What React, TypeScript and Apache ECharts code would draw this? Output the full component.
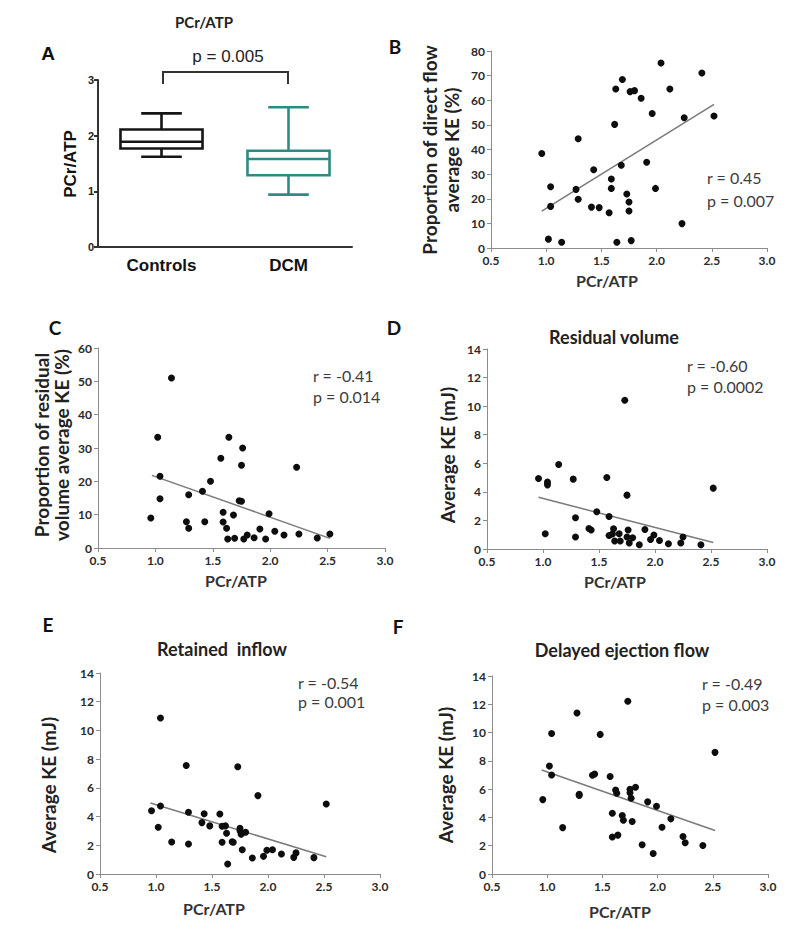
import React, { useEffect, useRef } from 'react';
import * as echarts from 'echarts';

// ---------- Data ----------
const groups = ['Controls', 'DCM'];
const boxLow = [1.62, 0.94];
const boxQ1 = [1.77, 1.29];
const boxMedian = [1.89, 1.58];
const boxQ3 = [2.11, 1.73];
const boxHigh = [2.4, 2.51];
const groupColors = ['#151515', '#2f8a84'];

const pcrAtp = [0.96, 1.02, 1.04, 1.04, 1.14, 1.27, 1.29, 1.29, 1.41, 1.43, 1.48, 1.57, 1.59, 1.59, 1.62, 1.63, 1.64, 1.68, 1.69, 1.73, 1.75, 1.75, 1.76, 1.77, 1.8, 1.86, 1.91, 1.96, 1.99, 2.04, 2.12, 2.23, 2.25, 2.41, 2.52];

const directFlowPct = [38.4, 3.6, 24.9, 16.9, 2.3, 23.8, 44.4, 19.8, 16.6, 31.8, 16.4, 14.3, 28.0, 24.2, 50.2, 64.6, 2.3, 33.6, 68.4, 21.9, 18.7, 15.0, 63.5, 3.0, 63.9, 60.8, 34.8, 54.6, 24.2, 75.1, 64.6, 9.9, 52.9, 71.1, 53.6];
const residualPct = [9.0, 33.2, 21.5, 14.8, 51.0, 7.9, 5.9, 16.0, 17.0, 7.9, 20.0, 26.9, 10.7, 7.8, 5.9, 2.7, 33.2, 9.9, 2.9, 14.2, 14.0, 24.8, 30.0, 2.7, 3.9, 3.1, 5.7, 2.7, 10.3, 5.0, 3.9, 24.2, 4.2, 3.0, 4.2];
const residualKE = [4.93, 1.07, 4.68, 4.49, 5.91, 4.89, 2.19, 0.84, 1.44, 1.33, 2.61, 5.0, 2.28, 0.95, 1.05, 1.42, 0.56, 1.07, 0.56, 10.41, 3.77, 0.84, 1.33, 0.42, 0.79, 0.3, 1.37, 0.67, 0.98, 0.6, 0.37, 0.42, 0.84, 0.3, 4.26];
const retainedKE = [4.41, 3.26, 4.74, 10.86, 2.23, 7.56, 4.3, 2.09, 3.58, 4.2, 3.35, 4.18, 3.32, 2.21, 3.35, 2.84, 0.7, 2.25, 2.21, 7.47, 3.19, 3.02, 2.77, 1.69, 2.91, 1.12, 5.46, 1.23, 1.65, 1.69, 1.39, 1.16, 1.47, 1.14, 4.88];
const delayedKE = [5.26, 7.63, 7.0, 9.94, 3.28, 11.39, 5.64, 5.55, 6.98, 7.07, 9.87, 6.9, 4.3, 2.61, 5.94, 5.71, 2.75, 4.13, 3.8, 12.21, 5.99, 5.75, 5.36, 3.71, 6.13, 2.07, 5.1, 1.45, 4.79, 3.31, 3.9, 2.65, 2.21, 2.02, 8.6];

const trendB = [[0.96, 15.0], [2.52, 58.3]];
const trendC = [[0.97, 21.8], [2.52, 2.9]];
const trendD = [[0.96, 3.62], [2.52, 0.45]];
const trendE = [[0.95, 4.95], [2.52, 1.2]];
const trendF = [[0.95, 7.35], [2.52, 3.07]];

const statsB = ['r = 0.45', 'p = 0.007'];
const statsC = ['r = -0.41', 'p = 0.014'];
const statsD = ['r = -0.60', 'p = 0.0002'];
const statsE = ['r = -0.54', 'p = 0.001'];
const statsF = ['r = -0.49', 'p = 0.003'];

const yTicksA = { min: 0, max: 3, interval: 1 };
const yTicksPct80 = { min: 0, max: 80, interval: 10 };
const yTicksPct60 = { min: 0, max: 60, interval: 10 };
const yTicksKE = { min: 0, max: 14, interval: 2 };

// ---------- Styling ----------
const CAL = 'Lato, "Open Sans", sans-serif';
const ARIAL = '"Liberation Sans", Arial, sans-serif';
const AX = '#8c8c8c';

function xAxisPcr(gridIndex: number) {
  return {
    type: 'value', gridIndex, min: 0.5, max: 3.0, interval: 0.5,
    axisLine: { show: true, lineStyle: { color: AX, width: 1 } },
    axisTick: { show: true, length: 4, lineStyle: { color: AX } },
    axisLabel: { formatter: (v: number) => v.toFixed(1), fontFamily: CAL, fontWeight: 'bold', fontSize: 12, color: '#2a2a2a', margin: 6 },
    splitLine: { show: false },
  };
}
function yAxisVal(gridIndex: number, t: { min: number; max: number; interval: number }) {
  return {
    type: 'value', gridIndex, min: t.min, max: t.max, interval: t.interval,
    axisLine: { show: true, lineStyle: { color: AX, width: 1 } },
    axisTick: { show: true, length: 4, lineStyle: { color: AX } },
    axisLabel: { fontFamily: CAL, fontWeight: 'bold', fontSize: 12, color: '#2a2a2a', margin: 6 },
    splitLine: { show: false },
  };
}
function scatter(idx: number, ys: number[]) {
  return {
    type: 'scatter', xAxisIndex: idx, yAxisIndex: idx, symbolSize: 7,
    itemStyle: { color: '#0d0d0d', opacity: 1 }, data: pcrAtp.map((x, i) => [x, ys[i]]), z: 3,
  };
}
function trend(idx: number, pts: number[][]) {
  return {
    type: 'line', xAxisIndex: idx, yAxisIndex: idx, data: pts, symbol: 'none',
    lineStyle: { color: '#7a7a7a', width: 1.5 }, z: 2,
  };
}
function txt(x: number, y: number, text: string, size: number, opts: any = {}) {
  return {
    type: 'text', x, y, rotation: opts.rotation || 0,
    style: {
      text, fontSize: size, fontFamily: opts.font || CAL, fontWeight: opts.weight || 'normal',
      fill: opts.color || '#222', align: opts.align || 'center', verticalAlign: 'middle',
      lineHeight: opts.lineHeight || size * 1.2,
    },
  };
}
function stats(x: number, y1: number, y2: number, s: string[]) {
  return [txt(x, y1, s[0], 16, { align: 'left', color: '#3c3c3c' }), txt(x, y2, s[1], 16, { align: 'left', color: '#3c3c3c' })];
}

export default function App() {
  const ref = useRef<HTMLDivElement>(null);
  useEffect(() => {
    if (!ref.current) return;
    const chart = echarts.init(ref.current, undefined, { renderer: 'svg' });

    const boxData = groups.map((g, i) => [i, boxLow[i], boxQ1[i], boxMedian[i], boxQ3[i], boxHigh[i]]);

    const renderBox = (params: any, api: any) => {
      const i = api.value(0);
      const color = groupColors[i];
      const catW = api.size([1, 0])[0];
      const half = catW * 0.323;
      const capHalf = catW * 0.16;
      const [xc, yLow] = api.coord([i, api.value(1)]);
      const yQ1 = api.coord([i, api.value(2)])[1];
      const yMed = api.coord([i, api.value(3)])[1];
      const yQ3 = api.coord([i, api.value(4)])[1];
      const yHigh = api.coord([i, api.value(5)])[1];
      const st = { stroke: color, lineWidth: 2.6, fill: 'none' };
      return {
        type: 'group',
        children: [
          { type: 'rect', shape: { x: xc - half, y: yQ3, width: half * 2, height: yQ1 - yQ3 }, style: st },
          { type: 'line', shape: { x1: xc - half, y1: yMed, x2: xc + half, y2: yMed }, style: st },
          { type: 'line', shape: { x1: xc, y1: yQ3, x2: xc, y2: yHigh }, style: st },
          { type: 'line', shape: { x1: xc, y1: yQ1, x2: xc, y2: yLow }, style: st },
          { type: 'line', shape: { x1: xc - capHalf, y1: yHigh, x2: xc + capHalf, y2: yHigh }, style: st },
          { type: 'line', shape: { x1: xc - capHalf, y1: yLow, x2: xc + capHalf, y2: yLow }, style: st },
        ],
      };
    };

    const option: any = {
      animation: false,
      backgroundColor: '#fff',
      grid: [
        { left: 98, top: 80, width: 254, height: 167 },
        { left: 491, top: 51, width: 276, height: 197 },
        { left: 98, top: 348, width: 287, height: 200 },
        { left: 487, top: 349, width: 280, height: 200 },
        { left: 100, top: 673, width: 280, height: 201 },
        { left: 492, top: 676, width: 276, height: 198 },
      ],
      xAxis: [
        {
          type: 'category', gridIndex: 0, data: groups,
          axisLine: { show: true, lineStyle: { color: '#333', width: 2 } },
          axisTick: { show: false },
          axisLabel: { fontFamily: ARIAL, fontWeight: 'bold', fontSize: 17, color: '#111', margin: 10 },
        },
        xAxisPcr(1), xAxisPcr(2), xAxisPcr(3), xAxisPcr(4), xAxisPcr(5),
      ],
      yAxis: [
        {
          type: 'value', gridIndex: 0, min: yTicksA.min, max: yTicksA.max, interval: yTicksA.interval,
          axisLine: { show: true, lineStyle: { color: '#333', width: 2 } },
          axisTick: { show: true, length: 4, lineStyle: { color: '#333', width: 2 } },
          axisLabel: { fontFamily: ARIAL, fontWeight: 'bold', fontSize: 11, color: '#222', margin: 4 },
          splitLine: { show: false },
        },
        yAxisVal(1, yTicksPct80), yAxisVal(2, yTicksPct60), yAxisVal(3, yTicksKE), yAxisVal(4, yTicksKE), yAxisVal(5, yTicksKE),
      ],
      series: [
        { type: 'custom', xAxisIndex: 0, yAxisIndex: 0, renderItem: renderBox, data: boxData, encode: { x: 0, y: [1, 2, 3, 4, 5] } },
        scatter(1, directFlowPct), trend(1, trendB),
        scatter(2, residualPct), trend(2, trendC),
        scatter(3, residualKE), trend(3, trendD),
        scatter(4, retainedKE), trend(4, trendE),
        scatter(5, delayedKE), trend(5, trendF),
      ],
      graphic: [
        // panel letters
        txt(48, 53, 'A', 19, { font: ARIAL, weight: 'bold', color: '#111' }),
        txt(395, 46, 'B', 19, { weight: 'bold', color: '#111' }),
        txt(55, 327, 'C', 19, { weight: 'bold', color: '#111' }),
        txt(394, 327, 'D', 19, { weight: 'bold', color: '#111' }),
        txt(48, 624, 'E', 19, { weight: 'bold', color: '#111' }),
        txt(398, 626, 'F', 19, { weight: 'bold', color: '#111' }),
        // titles
        txt(204, 22, 'PCr/ATP', 15, { weight: 'bold' }),
        txt(614, 337, 'Residual volume', 18, { weight: 'bold' }),
        txt(222, 649, 'Retained  inflow', 18, { weight: 'bold' }),
        txt(622, 650, 'Delayed ejection flow', 18, { weight: 'bold' }),
        // panel A annotation
        txt(228, 56, 'p = 0.005', 17, { font: ARIAL, color: '#222' }),
        { type: 'polyline', shape: { points: [[163, 84], [163, 72], [288, 72], [288, 84]] }, style: { stroke: '#333', lineWidth: 2, fill: 'none' } },
        // axis names
        txt(70, 164, 'PCr/ATP', 17, { font: ARIAL, weight: 'bold', rotation: Math.PI / 2, color: '#111' }),
        txt(440, 150, 'Proportion of direct flow\naverage KE (%)', 19, { weight: 'bold', rotation: Math.PI / 2, lineHeight: 22 }),
        txt(51, 445, 'Proportion of residual\nvolume average KE (%)', 19, { weight: 'bold', rotation: Math.PI / 2, lineHeight: 20 }),
        txt(447, 455, 'Average KE (mJ)', 19, { weight: 'bold', rotation: Math.PI / 2 }),
        txt(48, 785, 'Average KE (mJ)', 19, { weight: 'bold', rotation: Math.PI / 2 }),
        txt(445, 775, 'Average KE (mJ)', 19, { weight: 'bold', rotation: Math.PI / 2 }),
        txt(607, 280, 'PCr/ATP', 16, { weight: 'bold', color: '#333' }),
        txt(236, 580, 'PCr/ATP', 16, { weight: 'bold', color: '#333' }),
        txt(615, 581, 'PCr/ATP', 16, { weight: 'bold', color: '#333' }),
        txt(214, 908, 'PCr/ATP', 16, { weight: 'bold', color: '#333' }),
        txt(620, 911, 'PCr/ATP', 16, { weight: 'bold', color: '#333' }),
        // stats
        ...stats(707, 177, 200, statsB),
        ...stats(313, 375, 396, statsC),
        ...stats(687, 365, 386, statsD),
        ...stats(298, 682, 701, statsE),
        ...stats(702, 683, 704, statsF),
      ],
    };
    chart.setOption(option);
    return () => chart.dispose();
  }, []);
  return <div ref={ref} style={{ position: 'absolute', left: 0, top: 0, width: 800, height: 940, background: '#fff' }} />;
}
